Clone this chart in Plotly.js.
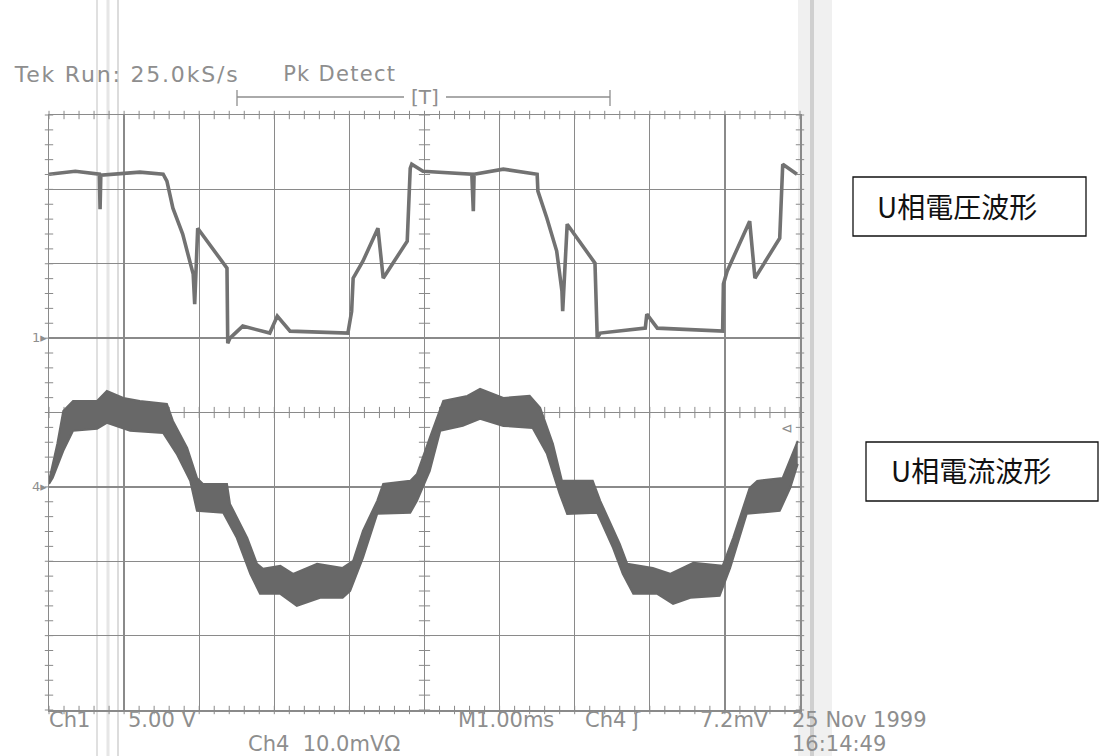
<!DOCTYPE html>
<html>
<head>
<meta charset="utf-8">
<script src="https://cdn.plot.ly/plotly-3.0.1.min.js"></script>
<style>html,body{margin:0;padding:0;background:#fff;}#chart{width:1100px;height:756px;}</style>
</head>
<body>
<div id="chart"></div>
<script>
// Ch1: U-phase voltage (V), time in ms (M 1.00ms/div)
const voltTime = [0, 0.35, 0.67, 0.68, 0.69, 1.21, 1.52, 1.57, 1.65, 1.78, 1.92, 1.94, 1.98, 2.37, 2.38, 2.41, 2.58, 2.94, 3.04, 3.21, 3.98, 4.03, 4.05, 4.18, 4.38, 4.45, 4.77, 4.81, 4.83, 4.98, 5.63, 5.65, 5.66, 6.05, 6.50, 6.51, 6.63, 6.76, 6.83, 6.84, 6.90, 7.27, 7.30, 7.34, 7.94, 7.96, 8.10, 8.97, 8.98, 9.03, 9.33, 9.40, 9.73, 9.77, 9.96];
const voltValue = [11.02, 11.22, 11.02, 8.67, 10.95, 11.16, 11.02, 10.55, 8.74, 6.99, 4.30, 2.28, 7.39, 4.70, -0.34, 0, 0.81, 0.34, 1.48, 0.47, 0.34, 1.81, 4.03, 5.17, 7.39, 4.03, 6.52, 11.42, 11.69, 11.22, 11.02, 8.53, 11.02, 11.36, 11.02, 9.88, 8.06, 5.85, 3.16, 1.81, 7.66, 5.04, 0, 0.34, 0.67, 1.61, 0.67, 0.47, 3.63, 4.50, 7.86, 4.03, 6.72, 11.69, 11.02];

// Ch4: U-phase current (mV, 10.0 mV/div), peak-detect envelope
const curMaxTime = [0, 0.11, 0.19, 0.32, 0.64, 0.77, 0.99, 1.21, 1.57, 1.65, 1.84, 1.97, 2.05, 2.37, 2.41, 2.64, 2.77, 2.85, 3.08, 3.25, 3.57, 3.91, 4.05, 4.18, 4.37, 4.45, 4.81, 4.90, 5.07, 5.25, 5.57, 5.74, 6.05, 6.40, 6.54, 6.71, 6.83, 7.24, 7.34, 7.60, 7.70, 8.04, 8.27, 8.58, 8.97, 9.11, 9.33, 9.43, 9.77, 9.91, 9.97];
const curMax = [0.81, 5.78, 10.22, 11.56, 11.56, 12.90, 11.96, 11.56, 11.16, 8.87, 5.24, 1.21, 0.40, 0.40, -2.28, -6.85, -10.35, -11.02, -10.62, -11.69, -10.35, -10.89, -9.95, -5.91, -1.88, 0.40, 0.81, 1.75, 6.59, 11.56, 12.23, 13.17, 11.96, 12.23, 10.62, 5.78, 0.81, 0.81, -1.88, -7.66, -10.35, -10.89, -11.69, -10.22, -10.62, -6.85, -0.13, 0.81, 1.21, 4.84, 6.18];
const curMinTime = [0, 0.05, 0.19, 0.32, 0.64, 0.77, 1.08, 1.52, 1.70, 1.88, 1.97, 2.32, 2.50, 2.68, 2.81, 3.08, 3.30, 3.61, 3.91, 4.01, 4.18, 4.37, 4.81, 4.90, 5.07, 5.21, 5.51, 5.74, 6.05, 6.44, 6.63, 6.80, 6.90, 7.30, 7.51, 7.64, 7.78, 8.10, 8.31, 8.54, 8.93, 9.07, 9.29, 9.73, 9.87, 9.97];
const curMin = [0.40, 1.21, 4.84, 7.53, 7.80, 8.60, 7.53, 7.26, 4.44, 0.81, -3.23, -3.49, -6.85, -11.69, -14.38, -14.38, -15.99, -14.92, -14.92, -13.98, -9.54, -3.63, -3.49, -1.88, 2.15, 7.53, 8.20, 9.14, 8.20, 7.93, 4.44, -0.94, -3.63, -3.49, -8.20, -11.69, -14.38, -14.38, -15.73, -14.92, -14.65, -10.89, -3.63, -3.23, -0.13, 3.09];

// Graticule: 10 x 8 divisions
const timePerDiv = 1.0;   // ms
const ch1PerDiv = 5.0;    // V
const ch4PerDiv = 10.0;   // mV
const timeRange = [0, 10];
const ch1Range = [-25, 15];  // Ch1 ground one division above centre
const ch4Range = [-30, 50];  // Ch4 ground one division below centre

const grid = '#8a8a8a';
const scopeText = '#8e8e8e';
const scopeFont = 'DejaVu Sans, sans-serif';

// graticule minor marks (0.2 div) on centre crosshair and border
function hMarks(yv) { const xs = [], ys = []; for (let i = 0; i <= 50; i++) { xs.push(timeRange[0] + i * timePerDiv / 5); ys.push(yv); } return [xs, ys]; }
function vMarks(xv) { const xs = [], ys = []; for (let i = 0; i <= 40; i++) { ys.push(ch1Range[0] + i * ch1PerDiv / 5); xs.push(xv); } return [xs, ys]; }
const markSets = [
  [hMarks(-5), 'line-ns-open', 8],
  [vMarks(5), 'line-ew-open', 8],
  [hMarks(ch1Range[1]), 'line-ns-open', 6],
  [hMarks(ch1Range[0]), 'line-ns-open', 6],
  [vMarks(timeRange[0]), 'line-ew-open', 6],
  [vMarks(timeRange[1]), 'line-ew-open', 6]
];

const traces = [
  {x: curMinTime, y: curMin, yaxis: 'y2', mode: 'lines', line: {color: '#686868', width: 2}, hoverinfo: 'skip'},
  {x: curMaxTime, y: curMax, yaxis: 'y2', mode: 'lines', line: {color: '#686868', width: 2}, fill: 'tonexty', fillcolor: '#686868', hoverinfo: 'skip'},
  {x: voltTime, y: voltValue, mode: 'lines', line: {color: '#727272', width: 3.6}, hoverinfo: 'skip'}
];
markSets.forEach(function (m) {
  traces.push({x: m[0][0], y: m[0][1], mode: 'markers', cliponaxis: false,
    marker: {symbol: m[1], size: m[2], color: grid, line: {color: grid, width: 1}}, hoverinfo: 'skip'});
});

function px2paperX(p) { return (p - 49) / 751; }
function px2paperY(p) { return (710 - p) / 595; }

const ann = (text, xpx, ypx, opts) => Object.assign({
  text: text, xref: 'paper', yref: 'paper', x: px2paperX(xpx), y: px2paperY(ypx),
  xanchor: 'left', yanchor: 'middle', showarrow: false,
  font: {family: scopeFont, size: 21, color: scopeText}
}, opts || {});

const headerSpacing = [1.8, 1.3];
const jp = {family: 'Noto Sans CJK JP, sans-serif', size: 28, color: '#111'};
const annotations = [
  ann('Tek Run: 25.0kS/s', 12, 74, {xshift: 17 * headerSpacing[0] / 2, font: {family: scopeFont, size: 22, color: scopeText}}),
  ann('Pk Detect', 281, 74, {xshift: 9 * headerSpacing[1] / 2}),
  ann('[T]', 425, 97, {xanchor: 'center', font: {family: scopeFont, size: 20, color: scopeText}}),
  ann('1▸', 30, 337, {font: {family: scopeFont, size: 13, color: scopeText}}),
  ann('4▸', 30, 486, {font: {family: scopeFont, size: 13, color: scopeText}}),
  ann('⊲', 779, 428, {font: {family: scopeFont, size: 14, color: scopeText}}),
  ann('Ch1', 47, 720),
  ann('5.00 V', 126, 720),
  ann('Ch4  10.0mVΩ', 246, 744),
  ann('M1.00ms', 456, 720),
  ann('Ch4 ʃ', 583, 720),
  ann('7.2mV', 698, 720),
  ann('25 Nov 1999', 790, 720),
  ann('16:14:49', 790, 744),
  ann('U相電圧波形', 875, 206, {font: jp}),
  ann('U相電流波形', 889, 470, {font: jp})
];

const shapes = [
  // scanner fold marks
  {type: 'rect', xref: 'paper', yref: 'paper', x0: px2paperX(798), x1: px2paperX(832), y0: px2paperY(756), y1: px2paperY(0), fillcolor: '#dadada', opacity: 0.4, line: {width: 0}, layer: 'below'},
  {type: 'line', xref: 'paper', yref: 'paper', x0: px2paperX(812), x1: px2paperX(812), y0: px2paperY(756), y1: px2paperY(0), line: {color: '#cfcfcf', width: 4}, layer: 'below'},
  {type: 'line', xref: 'paper', yref: 'paper', x0: px2paperX(97), x1: px2paperX(97), y0: px2paperY(756), y1: px2paperY(0), line: {color: '#e0e0e0', width: 2}, layer: 'below'},
  {type: 'line', xref: 'paper', yref: 'paper', x0: px2paperX(108), x1: px2paperX(108), y0: px2paperY(756), y1: px2paperY(0), line: {color: '#e6e6e6', width: 3}, layer: 'below'},
  {type: 'line', xref: 'paper', yref: 'paper', x0: px2paperX(118), x1: px2paperX(118), y0: px2paperY(756), y1: px2paperY(0), line: {color: '#dcdcdc', width: 2}, layer: 'below'},
  // record window bar
  {type: 'line', xref: 'paper', yref: 'paper', x0: px2paperX(237), x1: px2paperX(404), y0: px2paperY(97), y1: px2paperY(97), line: {color: scopeText, width: 1.3}},
  {type: 'line', xref: 'paper', yref: 'paper', x0: px2paperX(446), x1: px2paperX(610), y0: px2paperY(97), y1: px2paperY(97), line: {color: scopeText, width: 1.3}},
  {type: 'line', xref: 'paper', yref: 'paper', x0: px2paperX(237), x1: px2paperX(237), y0: px2paperY(90), y1: px2paperY(106), line: {color: scopeText, width: 1.3}},
  {type: 'line', xref: 'paper', yref: 'paper', x0: px2paperX(610), x1: px2paperX(610), y0: px2paperY(90), y1: px2paperY(106), line: {color: scopeText, width: 1.3}},
  // label boxes
  {type: 'rect', xref: 'paper', yref: 'paper', x0: px2paperX(853), x1: px2paperX(1086), y0: px2paperY(236), y1: px2paperY(177), line: {color: '#111', width: 1.3}},
  {type: 'rect', xref: 'paper', yref: 'paper', x0: px2paperX(866), x1: px2paperX(1098), y0: px2paperY(501), y1: px2paperY(442), line: {color: '#111', width: 1.3}}
];

const layout = {
  width: 1100, height: 756,
  margin: {l: 49, r: 300, t: 115, b: 46},
  paper_bgcolor: '#ffffff', plot_bgcolor: 'rgba(0,0,0,0)',
  showlegend: false, hovermode: false,
  xaxis: {range: timeRange, dtick: timePerDiv, tick0: 0, showgrid: true, gridcolor: grid, gridwidth: 1.3,
          showline: true, linecolor: grid, linewidth: 1.5, mirror: true, zeroline: false,
          ticks: '', showticklabels: false},
  yaxis: {range: ch1Range, dtick: ch1PerDiv, tick0: 0, showgrid: true, gridcolor: grid, gridwidth: 1.3,
          showline: true, linecolor: grid, linewidth: 1.5, mirror: true, zeroline: false,
          ticks: '', showticklabels: false},
  yaxis2: {range: ch4Range, overlaying: 'y', side: 'right', showgrid: false, zeroline: false, showticklabels: false, ticks: ''},
  annotations: annotations,
  shapes: shapes
};

Plotly.newPlot('chart', traces, layout, {staticPlot: true, displayModeBar: false}).then(function () {
  const texts = document.querySelectorAll('.annotation-text');
  if (texts[0]) texts[0].style.letterSpacing = headerSpacing[0] + 'px';
  if (texts[1]) texts[1].style.letterSpacing = headerSpacing[1] + 'px';
});
</script>
</body>
</html>
